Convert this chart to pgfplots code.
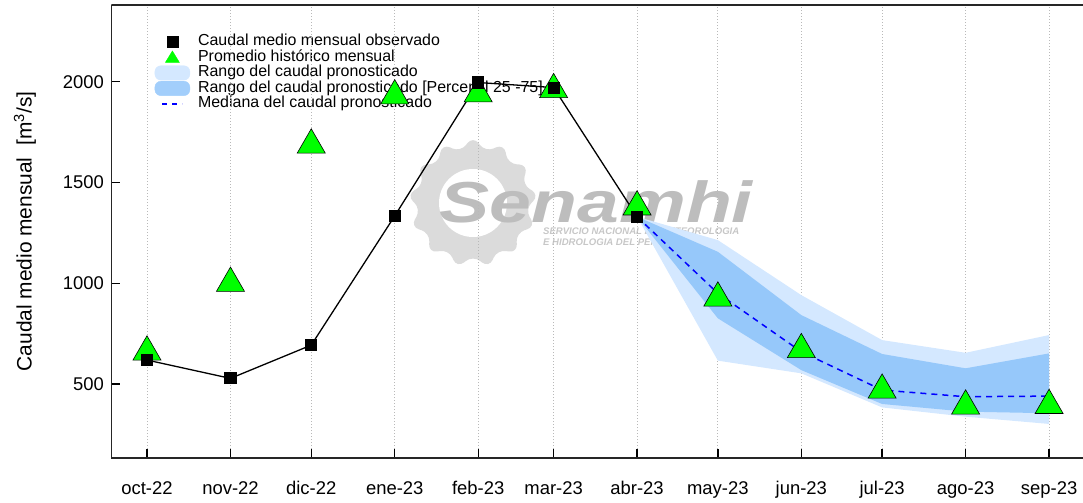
\documentclass[border=0pt]{standalone}
\usepackage{fontspec}
\setmainfont{Liberation Sans}
\usepackage{pgfplots}
\pgfplotsset{compat=1.18}
\usetikzlibrary{shapes.geometric}
\definecolor{lightband}{RGB}{212,232,255}
\definecolor{darkband}{RGB}{150,200,250}
\definecolor{trigreen}{RGB}{0,255,0}
\pgfplotsset{
  base/.style={
    width=971.5bp, height=453bp, scale only axis,
    xmin=-13.18, xmax=347.6, ymin=133, ymax=2380.6,
  }
}
\begin{document}
\begin{tikzpicture}
% watermark
\node[star, star points=13, star point ratio=1.28, minimum size=134bp, fill=black!14, draw=none, rounded corners=9bp] at (361.5bp,255bp) {};
\fill[white] (361.5bp,255bp) circle (34bp);
\node[anchor=base west, font=\fontsize{58}{58}\selectfont\bfseries\itshape, text=black!26, xscale=1.3, inner sep=0pt, text depth=0pt] at (328bp,235bp) {Senamhi};
\node[anchor=base west, font=\fontsize{9.6}{9.6}\selectfont\bfseries\itshape, text=black!22, inner sep=0pt, text depth=0pt] at (431.5bp,223bp) {SERVICIO NACIONAL DE METEOROLOGIA};
\node[anchor=base west, font=\fontsize{9.6}{9.6}\selectfont\bfseries\itshape, text=black!22, inner sep=0pt, text depth=0pt] at (431.5bp,212.5bp) {E HIDROLOGIA DEL PERU};
% legend (drawn beneath the data)
\begin{axis}[base, hide axis,
  legend style={draw=none, fill=none, at={(axis description cs:0.04426,0.9360)}, anchor=north west,
    inner sep=0pt, font=\fontsize{16}{16}\selectfont,
    nodes={inner sep=0pt, text height=11.5bp, text depth=4bp},
    column sep=8bp, row sep=0pt, cells={anchor=west}},
]
\addlegendimage{legend image code/.code={\fill[black] (17.5bp,0bp) +(-5.3bp,-5.3bp) rectangle +(5.3bp,5.3bp);}}
\addlegendentry{Caudal medio mensual observado}
\addlegendimage{legend image code/.code={\fill[trigreen] (17.5bp,6.5bp) -- (24.5bp,-5bp) -- (10.5bp,-5bp) -- cycle;}}
\addlegendentry{Promedio histórico mensual}
\addlegendimage{legend image code/.code={\fill[lightband, rounded corners=6bp] (0bp,-7.2bp) rectangle (35bp,7.2bp);}}
\addlegendentry{Rango del caudal pronosticado}
\addlegendimage{legend image code/.code={\fill[darkband!80!lightband, rounded corners=6bp] (0bp,-7.2bp) rectangle (35bp,7.2bp);}}
\addlegendentry{Rango del caudal pronosticado [Percentil 25 -75]}
\addlegendimage{legend image code/.code={\draw[blue, line width=1.5bp, dash pattern=on 5bp off 5bp] (7.5bp,0bp) -- (27.5bp,0bp);}}
\addlegendentry{Mediana del caudal pronosticado}
\end{axis}
\begin{axis}[base,
  axis lines*=left, axis line style={-, line width=1.4bp, black!85},
  tick align=inside, major tick length=9bp, tick style={line width=1.3bp, black},
  xtick={0,31,61,92,123,151,182,212,243,273,304,335},
  xticklabels={oct-22,nov-22,dic-22,ene-23,feb-23,mar-23,abr-23,may-23,jun-23,jul-23,ago-23,sep-23},
  ytick={500,1000,1500,2000},
  xmajorgrids, grid style={gray!55, dash pattern=on 1bp off 2bp, line width=0.8bp},
  tick label style={font=\fontsize{18.5}{20}\selectfont},
  /pgf/number format/assume math mode=true, /pgf/number format/1000 sep={},
  yticklabel style={xshift=-4bp},
  xticklabel style={yshift=-20bp},
  ylabel={Caudal medio mensual\ \ [m\textsuperscript{3}/s]},
  ylabel style={at={(axis description cs:-0.08904,0.5)}, anchor=center, font=\fontsize{21}{21}\selectfont},
]
\addplot[fill=lightband, draw=none] coordinates {
 (182,1330) (212,1214) (243,941) (273,718) (304,655) (335,743)
 (335,302) (304,338) (273,384) (243,553) (212,616) (182,1330)} -- cycle;
\addplot[fill=darkband, draw=none] coordinates {
 (182,1330) (212,1156) (243,842) (273,649) (304,578) (335,652)
 (335,355) (304,363) (273,401) (243,569) (212,826) (182,1330)} -- cycle;
\addplot[only marks, mark=triangle*, mark size=16.2bp, mark options={fill=trigreen, draw=black, line width=0.6bp}] coordinates {
 (0,659) (31,1000) (61,1686) (92,1930) (123,1940) (151,1961) (182,1379) (212,927) (243,671) (273,470) (304,391) (335,394)};
\addplot[black, line width=1.3bp, mark=square*, mark size=5.4bp, mark options={fill=black, solid}] coordinates {
 (0,619) (31,528) (61,693) (92,1334) (123,1996) (151,1971) (182,1330)};
\addplot[blue, line width=1.5bp, dash pattern=on 6bp off 5bp] coordinates {
 (182,1330) (212,950) (243,660) (273,470) (304,437) (335,440)};
\draw[line width=1.4bp, black!85] (rel axis cs:0,1) -- (rel axis cs:1,1);
\end{axis}
\pgfresetboundingbox
\useasboundingbox (-111.5bp,-45bp) rectangle (971.5bp,458bp);
\end{tikzpicture}
\end{document}
